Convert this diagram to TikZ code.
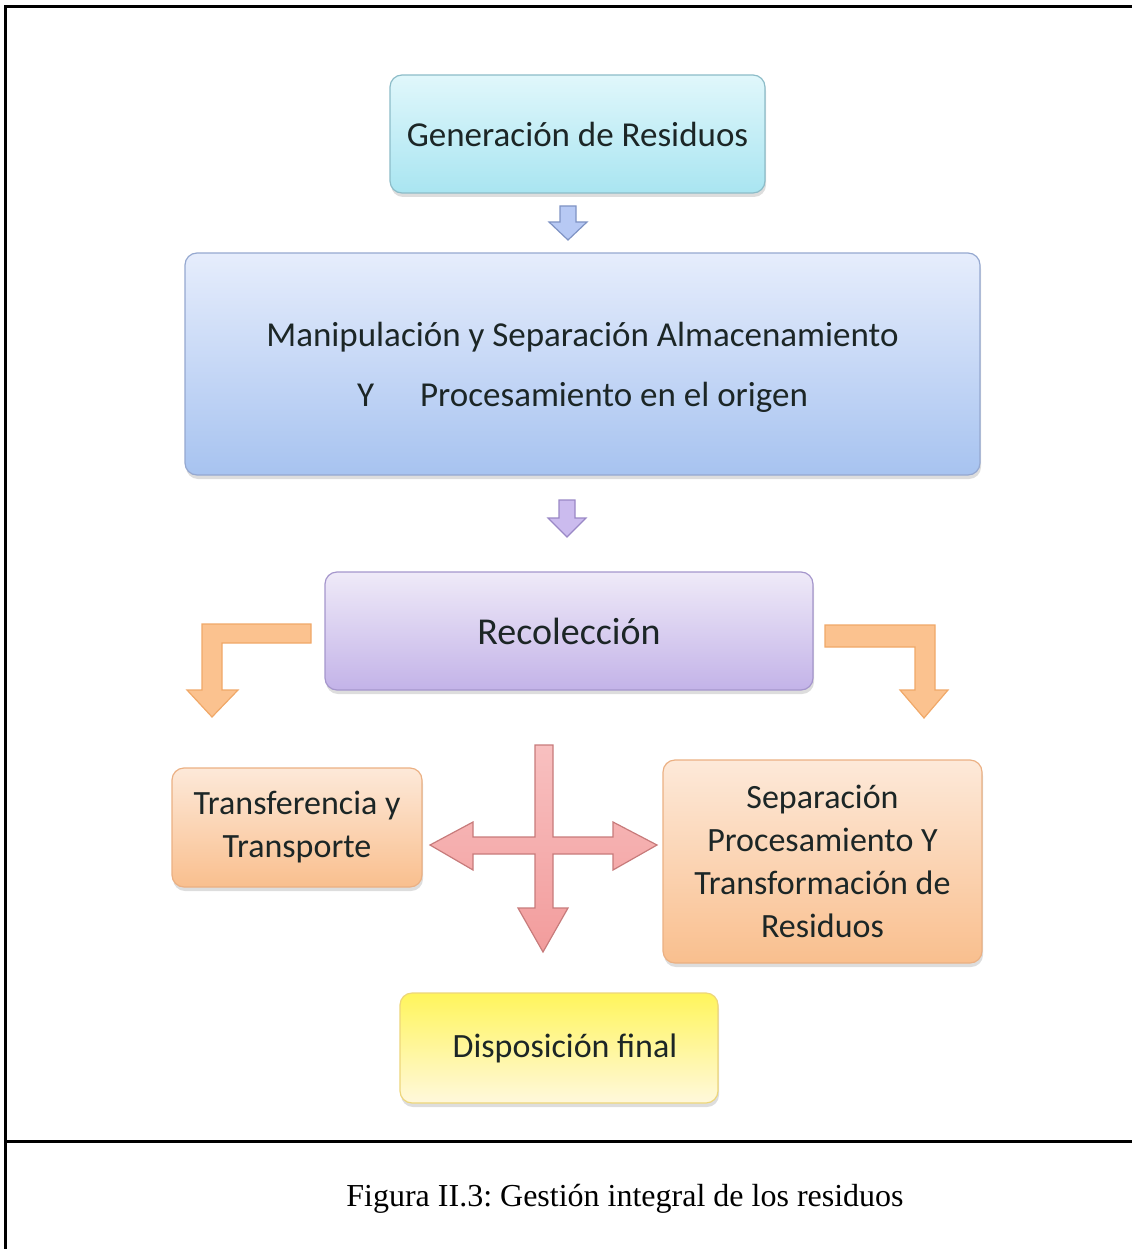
\documentclass[tikz,border=0pt]{standalone}
\usepackage{fontspec}
\setmainfont{Carlito}
\newfontfamily\capfont{Liberation Serif}
\usetikzlibrary{shadows}
\frenchspacing
\definecolor{txt}{HTML}{1C2626}
\definecolor{genT}{HTML}{E0F7FB}\definecolor{genB}{HTML}{A9E5F1}\definecolor{genD}{HTML}{8CBCC8}
\definecolor{manT}{HTML}{E6EDFC}\definecolor{manB}{HTML}{A7C3F0}\definecolor{manD}{HTML}{95A8D0}
\definecolor{recT}{HTML}{EFEAF8}\definecolor{recB}{HTML}{C3B3E8}\definecolor{recD}{HTML}{A596CC}
\definecolor{orT}{HTML}{FDE9D9}\definecolor{orB}{HTML}{F9BF8E}\definecolor{orD}{HTML}{EBB083}
\definecolor{yeT}{HTML}{FFF55C}\definecolor{yeB}{HTML}{FFF8DC}\definecolor{yeD}{HTML}{EDD67A}
\definecolor{baF}{HTML}{B7C9F4}\definecolor{baD}{HTML}{7F93C4}
\definecolor{paF}{HTML}{CBBBEE}\definecolor{paD}{HTML}{9A88C6}
\definecolor{oaF}{HTML}{FBC28F}\definecolor{oaD}{HTML}{F0A868}
\definecolor{raT}{HTML}{F8C0C0}\definecolor{raB}{HTML}{F29C9C}\definecolor{raD}{HTML}{C77B7B}
\tikzset{
  box/.style={rounded corners=12pt, draw, line width=1.2pt, text=txt,
    align=center, inner sep=0pt,
    drop shadow={shadow xshift=1pt, shadow yshift=-4pt, opacity=0.22, fill=black!60}},
  cyanbox/.style={box, draw=genD, top color=genT, bottom color=genB},
  bluebox/.style={box, draw=manD, top color=manT, bottom color=manB},
  purplebox/.style={box, draw=recD, top color=recT, bottom color=recB},
  orangebox/.style={box, draw=orD, top color=orT, bottom color=orB},
  yellowbox/.style={box, draw=yeD, top color=yeT, bottom color=yeB},
  barrow/.style={line width=1.2pt, draw=baD, fill=baF},
  parrow/.style={line width=1.2pt, draw=paD, fill=paF},
  oarrow/.style={line width=1.2pt, draw=oaD, fill=oaF},
  rarrow/.style={line width=1.2pt, draw=raD, top color=raT, bottom color=raB},
  frame/.style={line width=3pt, black},
}
\begin{document}
\begin{tikzpicture}[x=1pt, y=-1pt]
\useasboundingbox (0,0) rectangle (1132,1249);
% frame
\coordinate (fl) at (5,1249);
\coordinate (ftl) at (5,7);
\coordinate (ftr) at (1132,7);
\coordinate (fml) at (5,1141);
\coordinate (fmr) at (1132,1141);
\draw[frame] (fl) -- (ftl) -- (ftr);
\draw[frame] (fml) -- (fmr);

% boxes
\node[cyanbox, minimum width=375pt, minimum height=118pt,
  font=\fontsize{35}{42}\selectfont] (gen) at (577.5,134) {Generación de Residuos};
\node[bluebox, minimum width=795pt, minimum height=222pt, text depth=0pt,
  font=\fontsize{35}{60}\selectfont] (man) at (582.5,364)
  {\raisebox{0pt}[0pt][0pt]{}Manipulación y Separación Almacenamiento\\ Y\hspace{46pt}Procesamiento en el origen};
\node[purplebox, minimum width=488pt, minimum height=118pt,
  font=\fontsize{38}{44}\selectfont] (rec) at (569,631) {Recolección};
\node[orangebox, minimum width=250pt, minimum height=119pt,
  font=\fontsize{34}{43}\selectfont] (tra) at (297,827.5) {Transferencia y\\ Transporte};
\node[orangebox, minimum width=319pt, minimum height=203pt,
  font=\fontsize{34}{43}\selectfont] (sep) at (822.5,861.5)
  {\vspace*{-4pt}Separación\\ Procesamiento Y\\ Transformación de\\ Residuos};
\node[yellowbox, minimum width=318pt, minimum height=110pt,
  font=\fontsize{34}{40}\selectfont] (dis) at (559,1048) {\hspace{12pt}Disposición final};

% caption
\node[inner sep=0pt, font=\capfont\fontsize{32}{36}\selectfont] (cap) at (625,1199)
  {Figura II.3: Gestión integral de los residuos};

% small down arrows
\draw[barrow] (560,206) -- (576,206) -- (576,222) -- (587,222) -- (568,240) -- (549,222) -- (560,222) -- cycle;
\draw[parrow] (559,500) -- (575,500) -- (575,518) -- (586,518) -- (567,537) -- (548,518) -- (559,518) -- cycle;

% orange L arrows
\draw[oarrow] (311,624) -- (202,624) -- (202,690) -- (187,690) -- (212,717) -- (238,690) -- (222,690) -- (222,643) -- (311,643) -- cycle;
\draw[oarrow] (825,625) -- (935,625) -- (935,690) -- (948,690) -- (924,718) -- (900,690) -- (915,690) -- (915,647) -- (825,647) -- cycle;

% cross arrow
\draw[rarrow] (535,745) -- (553,745) -- (553,837) -- (613,837) -- (613,822) -- (657,845)
  -- (613,870) -- (613,854) -- (553,854) -- (553,908) -- (568,908) -- (543,952)
  -- (518,908) -- (535,908) -- (535,854) -- (473,854) -- (473,870) -- (430,845)
  -- (473,822) -- (473,837) -- (535,837) -- cycle;
\end{tikzpicture}
\end{document}
